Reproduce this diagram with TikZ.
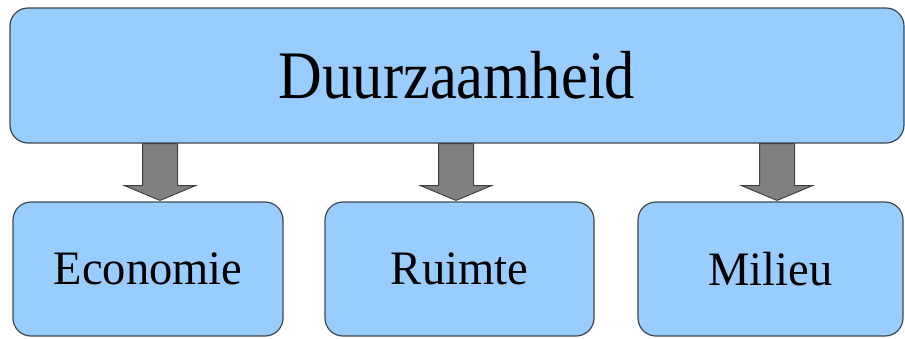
\documentclass[tikz,border=0pt]{standalone}
\usepackage{fontspec}
\setmainfont{Liberation Serif}
\usetikzlibrary{calc}
\definecolor{boxBlue}{RGB}{153,204,255}
\definecolor{boxLine}{RGB}{62,70,80}
\definecolor{arrowGray}{RGB}{128,128,128}

\begin{document}
\begin{tikzpicture}[x=1pt,y=-1pt,
  main node/.style={rectangle,rounded corners=18pt,fill=boxBlue,draw=boxLine,
  line width=1.2pt,inner sep=0pt,minimum height=134pt,
  font=\fontsize{48}{54}\selectfont},
  top node/.style={main node,minimum height=135pt,
  font=\fontsize{68}{74}\selectfont},
  block arrow/.style={fill=arrowGray,draw=black!75,line width=1pt,line join=miter}]
\useasboundingbox (0,0) rectangle (905,338);
%------------------------------------------------------------------------
% The theme and its three parts
%------------------------------------------------------------------------
\node[top node,minimum width=894pt] (duur) at (457,75.5) {\scalebox{0.89}[1]{Duurzaamheid}};
\node[main node,minimum width=270pt] (eco) at (148,269) {\scalebox{0.97}[1]{Economie}};
\node[main node,minimum width=269pt] (ruimte) at (459.5,269) {\scalebox{0.97}[1]{Ruimte}};
\node[main node,minimum width=265pt] (milieu) at (770.5,269) {\scalebox{0.97}[1]{Milieu}};
%------------------------------------------------------------------------
% The block arrows
%------------------------------------------------------------------------
\foreach \part/\dx in {eco/12,ruimte/-3.5,milieu/6.5}{
  \coordinate (s) at ([xshift=\dx pt]\part.north |- duur.south);
  \coordinate (t) at ([xshift=\dx pt,yshift=1pt]\part.north);
  \draw[block arrow] ($(s)+(-17.5,0)$) -- ($(s)+(-17.5,42)$) -- ($(s)+(-35.5,42)$)
    -- (t) -- ($(s)+(35.5,42)$) -- ($(s)+(17.5,42)$) -- ($(s)+(17.5,0)$) -- cycle;
}
\end{tikzpicture}
\end{document}
